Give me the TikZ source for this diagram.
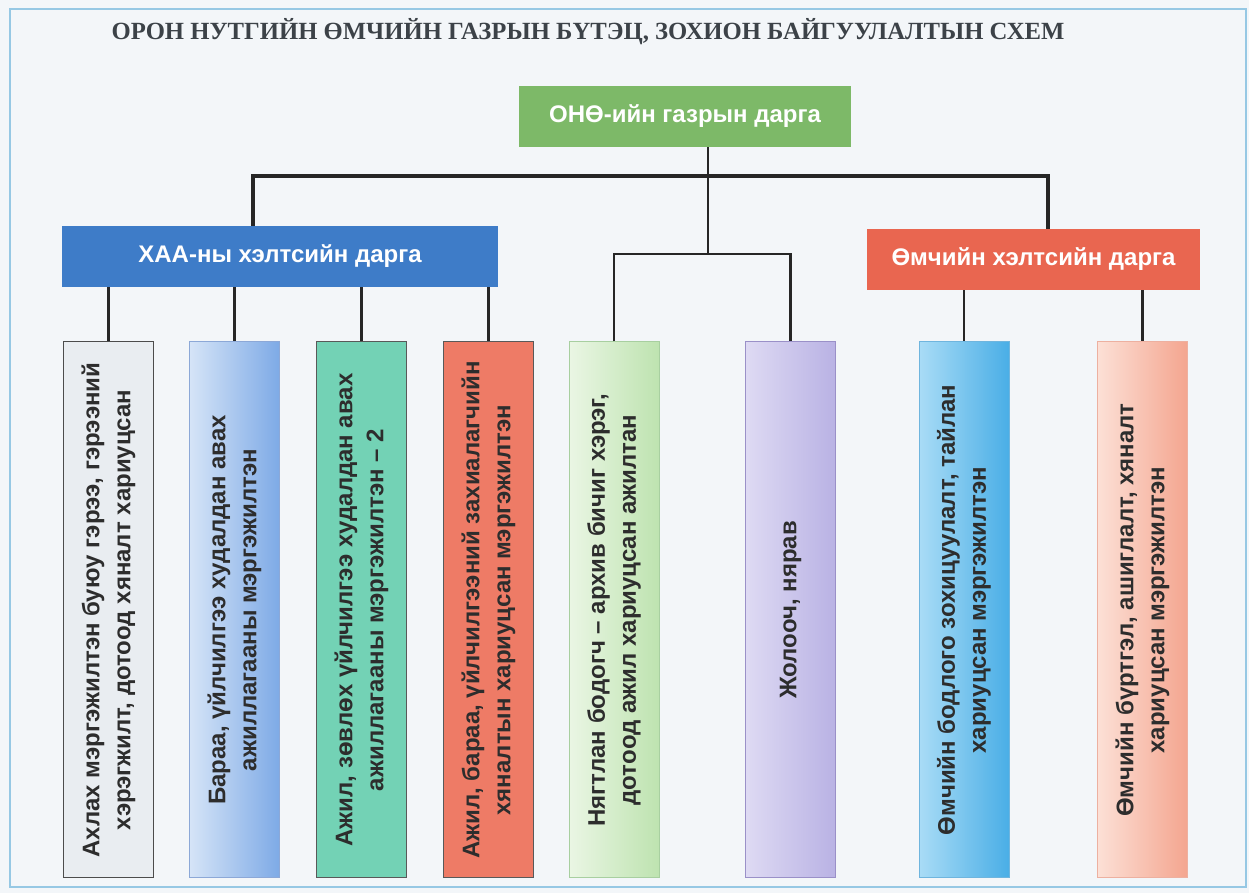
\documentclass[tikz,border=0pt]{standalone}
\usepackage{fontspec}
\usepackage{graphicx}
\setmainfont{Liberation Sans}
\newfontfamily\titlefont{Liberation Serif}
\definecolor{bgcol}{RGB}{243,246,249}
\definecolor{framecol}{RGB}{150,200,228}
\definecolor{txtcol}{RGB}{45,45,45}
\definecolor{ttlcol}{RGB}{60,66,72}
\definecolor{headgreen}{RGB}{125,185,104}
\definecolor{headblue}{RGB}{62,124,200}
\definecolor{headred}{RGB}{233,102,80}
\newcommand{\vtext}[1]{\rotatebox{90}{\parbox{526pt}{\centering #1}}}
\tikzset{
  headbox/.style={fill=#1,text=white,font=\bfseries\fontsize{24}{28}\selectfont,minimum height=61pt,inner sep=0pt},
  postbox/.style={minimum width=90pt,minimum height=536pt,inner sep=0pt,line width=1pt,text=txtcol,font=\bfseries\fontsize{24}{31}\selectfont},
  wire/.style={line width=2.8pt,black!85}
}
\begin{document}
\begin{tikzpicture}[x=1pt,y=1pt]
\fill[bgcol] (0,0) rectangle (1249,893);
\draw[framecol,line width=1.5pt] (10,6) rectangle (1246,884);
\node[font=\titlefont\bfseries\fontsize{24.7}{30}\selectfont,text=ttlcol] (title) at (588,861) {ОРОН НУТГИЙН ӨМЧИЙН ГАЗРЫН БҮТЭЦ, ЗОХИОН БАЙГУУЛАЛТЫН СХЕМ};
\node[headbox=headgreen,minimum width=332pt] (onq) at (685,776.5) {ОНӨ-ийн газрын дарга};
\node[headbox=headblue,minimum width=436pt] (xaa) at (280,636.5) {ХАА-ны хэлтсийн дарга};
\node[headbox=headred,minimum width=333pt] (omch) at (1033.5,633.5) {Өмчийн хэлтсийн дарга};
\node[postbox,draw=black!70,fill={rgb,255:red,233;green,237;blue,241}] (b1) at (108.5,283) {\vtext{Ахлах мэргэжилтэн буюу гэрээ, гэрээний\\хэрэгжилт, дотоод хяналт хариуцсан}};
\node[postbox,draw={rgb,255:red,140;green,168;blue,215},left color={rgb,255:red,213;green,228;blue,247},right color={rgb,255:red,126;green,170;blue,230}] (b2) at (234.5,283) {\vtext{Бараа, үйлчилгээ худалдан авах\\ажиллагааны мэргэжилтэн}};
\node[postbox,draw=black!65,fill={rgb,255:red,115;green,210;blue,181}] (b3) at (361.5,283) {\vtext{Ажил, зөвлөх үйлчилгээ худалдан авах\\ажиллагааны мэргэжилтэн – 2}};
\node[postbox,draw=black!65,fill={rgb,255:red,238;green,123;blue,102}] (b4) at (488.5,283) {\vtext{Ажил, бараа, үйлчилгээний захиалагчийн\\хяналтын хариуцсан мэргэжилтэн}};
\node[postbox,draw={rgb,255:red,168;green,207;blue,160},left color={rgb,255:red,234;green,246;blue,228},right color={rgb,255:red,190;green,227;blue,176}] (b5) at (614,283) {\vtext{Нягтлан бодогч – архив бичиг хэрэг,\\дотоод ажил хариуцсан ажилтан}};
\node[postbox,draw={rgb,255:red,154;green,144;blue,200},left color={rgb,255:red,222;green,218;blue,243},right color={rgb,255:red,185;green,178;blue,228}] (b6) at (790.5,283) {\vtext{Жолооч, нярав}};
\node[postbox,draw={rgb,255:red,111;green,181;blue,222},left color={rgb,255:red,169;green,220;blue,246},right color={rgb,255:red,74;green,174;blue,230}] (b7) at (964,283) {\vtext{Өмчийн бодлого зохицуулалт, тайлан\\хариуцсан мэргэжилтэн}};
\node[postbox,draw={rgb,255:red,237;green,176;blue,160},left color={rgb,255:red,252;green,224;blue,214},right color={rgb,255:red,244;green,165;blue,143}] (b8) at (1142.5,283) {\vtext{Өмчийн бүртгэл, ашиглалт, хяналт\\хариуцсан мэргэжилтэн}};
\coordinate (tl) at (253,717);
\coordinate (tr) at (1048,717);
\coordinate (tm) at (708,717);
\coordinate (mm) at (708,639);
\draw[wire] (onq.south -| tm) -- (mm);
\draw[wire,line width=3.4pt] (xaa.north -| tl) -- (tl) -- (tr) -- (omch.north -| tr);
\draw[wire] (b5.north) |- (mm) -| (b6.north);
\foreach \b in {b1,b2,b3,b4} \draw[wire] (xaa.south -| \b.north) -- (\b.north);
\foreach \b in {b7,b8} \draw[wire] (omch.south -| \b.north) -- (\b.north);
\end{tikzpicture}
\end{document}
